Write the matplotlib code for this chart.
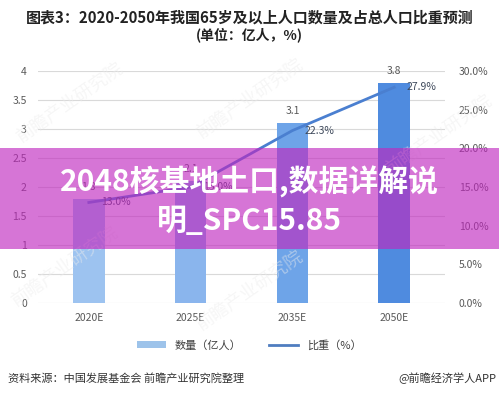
import matplotlib
matplotlib.use('Agg')
import matplotlib.pyplot as plt
from matplotlib.patches import Patch, Rectangle
from matplotlib.lines import Line2D

plt.rcParams['font.family'] = ['Noto Sans CJK SC', 'DejaVu Sans']

years = ['2020E', '2025E', '2035E', '2050E']
count = [1.8, 2.1, 3.1, 3.8]          # 亿人
share = [13.0, 15.0, 22.3, 27.9]      # %
bar_colors = ['#9dc3f0', '#8ab5ed', '#6ea4e8', '#4f8bdf']
left_ticks = [0, 0.5, 1, 1.5, 2, 2.5, 3, 3.5, 4]
right_ticks = [0, 5, 10, 15, 20, 25, 30]

fig = plt.figure(figsize=(4.99, 3.99), dpi=100)
fig.patch.set_facecolor('white')
ax = fig.add_axes([0.076, 0.2406, 0.816, 0.5814])
ax2 = ax.twinx()

x = list(range(len(years)))
ax.bar(x, count, width=0.31, color=bar_colors, zorder=2)
for xi, v in zip(x, count):
    ax.text(xi, v + 0.12, f'{v:.1f}', ha='center', va='bottom', fontsize=7.5, color='#595959')

ax.set_xlim(-0.5, 3.5)
ax.set_ylim(0, 4)
ax.set_yticks(left_ticks)
ax.set_yticklabels(['0', '0.5', '1', '1.5', '2', '2.5', '3', '3.5', '4'])
ax.set_xticks(x)
ax.set_xticklabels(years)
ax.grid(axis='y', color='#d9d9d9', linewidth=0.8, zorder=0)
ax.tick_params(length=0, labelsize=7.5, colors='#595959', pad=8)
ax.tick_params(axis='x', pad=7)
for s in ax.spines.values():
    s.set_visible(False)

ax2.plot(x, share, color='#4a7fd0', linewidth=2, zorder=3)
for xi, v in zip(x, share):
    ax2.text(xi + 0.12, v, f'{v:.1f}%', ha='left', va='center', fontsize=7.5, color='#3f4a5c')
ax2.set_ylim(0, 30)
ax2.set_yticks(right_ticks)
ax2.set_yticklabels([f'{t:.1f}%' for t in right_ticks])
ax2.tick_params(length=0, labelsize=7.5, colors='#595959', pad=10)
for s in ax2.spines.values():
    s.set_visible(False)

# titles
fig.text(0.5, 0.957, '图表3：2020-2050年我国65岁及以上人口数量及占总人口比重预测',
         ha='center', va='center', fontsize=10.8, fontweight='bold', color='#222222')
fig.text(0.5, 0.913, '(单位：亿人，%)', ha='center', va='center',
         fontsize=10, fontweight='bold', color='#222222')

# legend
handles = [Patch(facecolor='#9dc3ea', edgecolor='none'),
           Line2D([0], [0], color='#4f7dc0', linewidth=2)]
fig.legend(handles, ['数量（亿人）', '比重（%）'], loc='center', bbox_to_anchor=(0.5, 0.135),
           ncol=2, frameon=False, fontsize=8, handlelength=2.6, handleheight=0.6,
           columnspacing=2.5, labelcolor='#404040')

# footer
fig.text(0.016, 0.052, '资料来源：中国发展基金会 前瞻产业研究院整理', ha='left', va='center',
         fontsize=8, color='#333333')
fig.text(0.995, 0.052, '@前瞻经济学人APP', ha='right', va='center', fontsize=8, color='#333333')

# faint watermarks
for wx, wy in [(0.14, 0.74), (0.5, 0.75), (0.5, 0.27), (0.88, 0.66), (0.13, 0.33)]:
    fig.text(wx, wy, '前瞻产业研究院', rotation=35, ha='center', va='center',
             fontsize=13, color='#ececec', alpha=0.45, zorder=0)

# overlay banner
fig.patches.append(Rectangle((0, 1 - 249 / 399), 1, 101 / 399, transform=fig.transFigure,
                             facecolor='#c027bf', alpha=0.64, edgecolor='none', zorder=10))
fig.text(0.5, 1 - 182 / 399, '2048核基地土口,数据详解说', ha='center', va='center',
         fontsize=21.5, fontweight='bold', color='white', zorder=11)
fig.text(0.5, 1 - 221 / 399, '明_SPC15.85', ha='center', va='center',
         fontsize=21.5, fontweight='bold', color='white', zorder=11)

fig.savefig('out.png', dpi=100)
